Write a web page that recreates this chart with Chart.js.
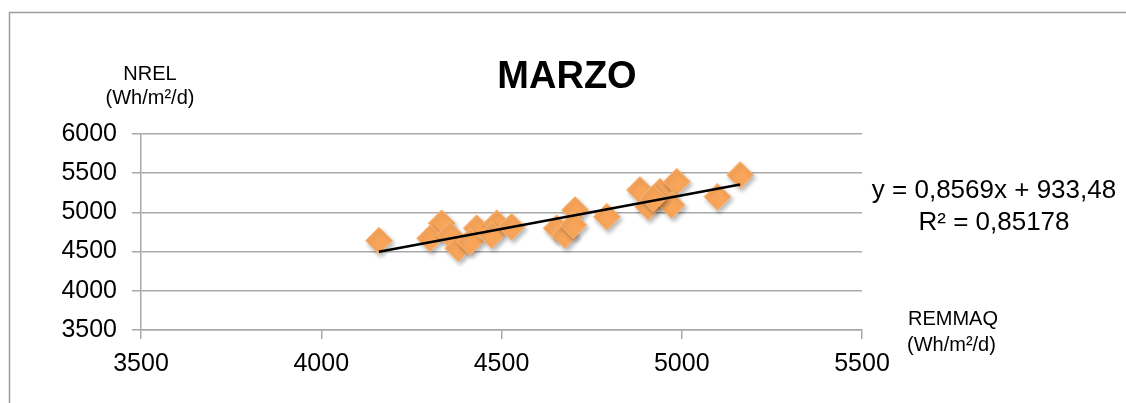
<!DOCTYPE html>
<html>
<head>
<meta charset="utf-8">
<title>MARZO</title>
<script src="https://cdn.jsdelivr.net/npm/chart.js@4.4.1/dist/chart.umd.min.js"></script>
<style>
  html, body { margin: 0; padding: 0; background: #ffffff; }
  #wrap { position: relative; width: 1126px; height: 403px; }
</style>
</head>
<body>
<div id="wrap"><canvas id="chart" width="1126" height="403"></canvas></div>
<script>
// Daily irradiation in March: REMMAQ (x) against NREL (y), Wh/m²/d
const remmaq = [4160, 4334, 4302, 4357, 4380, 4431, 4413, 4487, 4473, 4528,
                4653, 4676, 4704, 4699, 4792, 4884, 4907, 4940, 4986, 4972,
                4921, 5099, 5162];
const nrel   = [4640, 4861, 4670, 4712, 4542, 4797, 4626, 4861, 4712, 4818,
                4797, 4712, 5031, 4839, 4945, 5286, 5073, 5264, 5392, 5094,
                5180, 5200, 5477];

// Linear fit as printed on the chart
const slope = 0.8569;
const intercept = 933.48;
const rSquared = 0.85178;

const xTicks = [3500, 4000, 4500, 5000, 5500];
const yTicks = [3500, 4000, 4500, 5000, 5500, 6000];

const titleText = 'MARZO';
const yTitle = ['NREL', '(Wh/m²/d)'];
const xTitle = ['REMMAQ', '(Wh/m²/d)'];

const fmt = (v, d) => v.toFixed(d).replace('.', ',');
const eqText = 'y = ' + fmt(slope, 4) + 'x + ' + fmt(intercept, 2);
const r2Text = 'R² = ' + fmt(rSquared, 5);

const points = remmaq.map((x, i) => ({ x: x, y: nrel[i] }));
const xMin = Math.min(...remmaq);
const xMax = Math.max(...remmaq);
const fitLine = [
  { x: xMin, y: slope * xMin + intercept },
  { x: xMax, y: slope * xMax + intercept }
];

const FONT = "'Liberation Sans', Arial, Helvetica, sans-serif";
const GRID = '#a9a9a9';

// Soft drop shadow under the diamond markers
const markerShadow = {
  id: 'markerShadow',
  beforeDatasetDraw(chart, args) {
    if (args.meta.type !== 'scatter') return;
    const ctx = chart.ctx;
    ctx.save();
    ctx.shadowColor = 'rgba(0,0,0,0.28)';
    ctx.shadowBlur = 4;
    ctx.shadowOffsetX = 2;
    ctx.shadowOffsetY = 3;
  },
  afterDatasetDraw(chart, args) {
    if (args.meta.type !== 'scatter') return;
    chart.ctx.restore();
  }
};

// Frame, title, axis captions and regression text
const annotations = {
  id: 'annotations',
  beforeDraw(chart) {
    const ctx = chart.ctx;
    ctx.save();
    ctx.strokeStyle = '#9d9d9d';
    ctx.lineWidth = 1.5;
    ctx.beginPath();
    ctx.moveTo(9.5, 403);
    ctx.lineTo(9.5, 12.5);
    ctx.lineTo(1126, 12.5);
    ctx.stroke();
    ctx.restore();
  },
  afterDraw(chart) {
    const ctx = chart.ctx;
    ctx.save();
    ctx.fillStyle = '#000000';
    ctx.textBaseline = 'alphabetic';

    ctx.textAlign = 'center';
    ctx.font = 'bold 38px ' + FONT;
    ctx.fillText(titleText, 567, 88);

    ctx.font = '20px ' + FONT;
    ctx.fillText(yTitle[0], 150, 80);
    ctx.fillText(yTitle[1], 150, 104);

    ctx.textAlign = 'left';
    ctx.fillText(xTitle[0], 908, 325);
    ctx.fillText(xTitle[1], 907, 351);

    ctx.textAlign = 'center';
    ctx.font = '26px ' + FONT;
    ctx.fillText(eqText, 994, 198);
    ctx.fillText(r2Text, 994, 230);
    ctx.restore();
  }
};

new Chart(document.getElementById('chart'), {
  data: {
    datasets: [
      {
        type: 'line',
        data: fitLine,
        borderColor: '#000000',
        borderWidth: 2.5,
        pointRadius: 0,
        fill: false,
        order: 0
      },
      {
        type: 'scatter',
        data: points,
        pointStyle: 'rectRot',
        pointRadius: 13.5,
        backgroundColor: '#f8a55a',
        borderColor: '#fbbb80',
        borderWidth: 1,
        order: 1
      }
    ]
  },
  options: {
    responsive: false,
    animation: false,
    events: [],
    layout: { padding: { top: 134, right: 264, bottom: 0, left: 0 } },
    plugins: {
      legend: { display: false },
      tooltip: { enabled: false },
      title: { display: false }
    },
    scales: {
      x: {
        type: 'linear',
        min: xTicks[0],
        max: xTicks[xTicks.length - 1],
        afterBuildTicks: s => { s.ticks = xTicks.map(v => ({ value: v })); },
        afterFit: s => { s.height = 73; },
        grid: {
          drawOnChartArea: false,
          drawTicks: true,
          tickLength: 9,
          color: GRID,
          lineWidth: 1.5
        },
        border: { display: true, color: GRID, width: 1.5 },
        ticks: {
          padding: 10,
          color: '#000000',
          font: { family: FONT, size: 25 },
          callback: v => String(v)
        }
      },
      y: {
        type: 'linear',
        min: yTicks[0],
        max: yTicks[yTicks.length - 1],
        afterBuildTicks: s => { s.ticks = yTicks.map(v => ({ value: v })); },
        afterFit: s => { s.width = 141; },
        grid: {
          drawOnChartArea: true,
          drawTicks: true,
          tickLength: 9,
          color: GRID,
          lineWidth: 1.5
        },
        border: { display: true, color: GRID, width: 1.5 },
        ticks: {
          padding: 15,
          color: '#000000',
          font: { family: FONT, size: 25 },
          callback: v => String(v)
        }
      }
    }
  },
  plugins: [markerShadow, annotations]
});
</script>
</body>
</html>
